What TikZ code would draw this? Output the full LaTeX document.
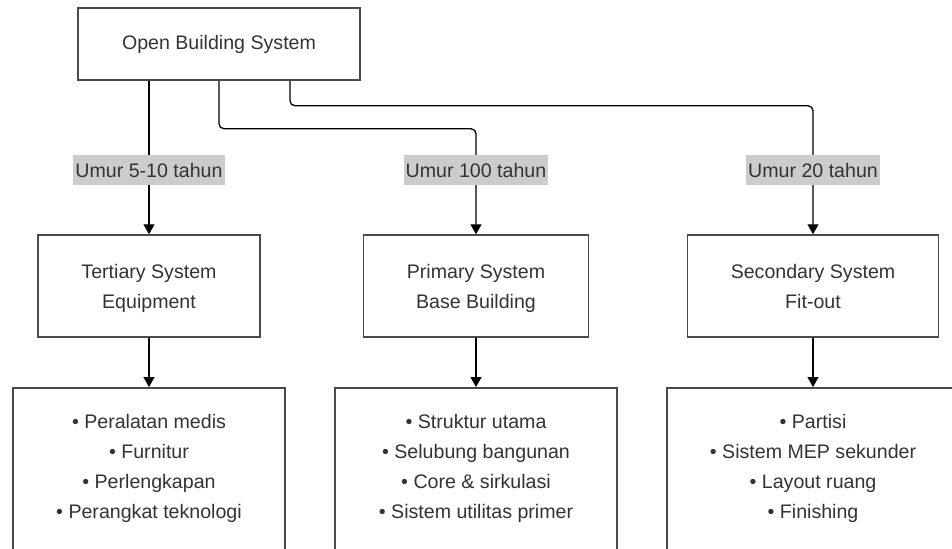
\documentclass[tikz,border=0pt]{standalone}
\usepackage{fontspec}
\setmainfont{Liberation Sans}
\usepackage{tikz}
\usetikzlibrary{arrows.meta}
\usetikzlibrary{positioning}
\definecolor{txtgray}{HTML}{333333}
\definecolor{boxgray}{HTML}{4A4A4A}
\definecolor{lblgray}{HTML}{CCCCCC}
\newcommand{\topln}{\rule{0pt}{10pt}}
\newcommand{\botln}{\vphantom{g}}
\tikzstyle{sysbox} = [draw=boxgray, line width=0.75pt, fill=white, text=txtgray, align=center, inner sep=0pt]
\tikzstyle{listbox} = [sysbox, anchor=north, minimum height=81pt]
\tikzstyle{agelbl} = [fill=lblgray, text=txtgray, inner xsep=1pt, inner ysep=0pt, minimum height=15pt]
\tikzstyle{conn} = [draw=black, line width=0.65pt, -{Triangle[width=5.5pt,length=5pt]}]

\begin{document}
\begin{tikzpicture}[x=0.5pt, y=-0.5pt, font=\fontsize{9.8pt}{15pt}\selectfont]

	\path[use as bounding box] (0,0) rectangle (952,548);
	\clip (0,0) rectangle (952,548);

	\node[sysbox, minimum width=141pt, minimum height=36pt] (open) at (219,44) {Open Building System};

	\node[sysbox, minimum width=111pt, minimum height=51pt] (tert) at (149,286) {\topln Tertiary System\\Equipment\botln};
	\node[sysbox, minimum width=112.5pt, minimum height=51pt] (prim) at (476,286) {\topln Primary System\\Base Building\botln};
	\node[sysbox, minimum width=125.5pt, minimum height=51pt] (sec) at (813,286) {\topln Secondary System\\Fit-out\botln};

	\node[listbox, minimum width=136pt] (tlist) at (149,387)
		{\textbullet{} Peralatan medis\\\textbullet{} Furnitur\\\textbullet{} Perlengkapan\\\textbullet{} Perangkat teknologi};
	\node[listbox, minimum width=141pt] (plist) at (476,387)
		{\textbullet{} Struktur utama\\\textbullet{} Selubung bangunan\\\textbullet{} Core \& sirkulasi\\\textbullet{} Sistem utilitas primer};
	\node[listbox, minimum width=146pt] (slist) at (813,387)
		{\textbullet{} Partisi\\\textbullet{} Sistem MEP sekunder\\\textbullet{} Layout ruang\\\textbullet{} Finishing};

	% open building -> three systems
	\draw[conn] (open.south -| tert.north) -- (tert.north);
	\draw[conn, rounded corners=2.5pt] (open.south) -- ++(0,48) -| (prim.north);
	\draw[conn, rounded corners=2.5pt] ([xshift=35.5pt]open.south) -- ++(0,25) -| (sec.north);

	\node[agelbl] (age1) at (149,170) {Umur 5-10 tahun};
	\node[agelbl] (age2) at (476,170) {Umur 100 tahun};
	\node[agelbl] (age3) at (813,170) {Umur 20 tahun};

	% systems -> component lists
	\draw[conn] (tert) -- (tlist);
	\draw[conn] (prim) -- (plist);
	\draw[conn] (sec) -- (slist);

\end{tikzpicture}
\end{document}
